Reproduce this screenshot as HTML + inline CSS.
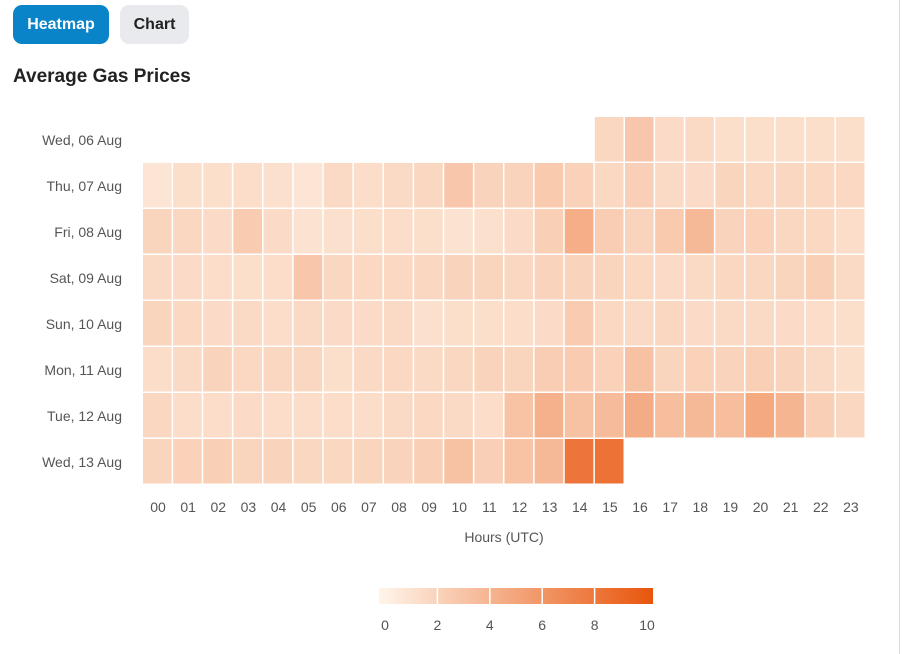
<!DOCTYPE html>
<html><head><meta charset="utf-8"><style>
body{margin:0;width:907px;height:654px;background:#fff;font-family:"Liberation Sans",sans-serif;position:relative;overflow:hidden}
.btn{position:absolute;top:5px;height:39px;border-radius:9px;font-weight:bold;font-size:16px;line-height:39px;text-align:center}
#h{left:13px;width:96px;background:#0a84c8;color:#fff}
#c{left:120px;width:69px;background:#e8eaed;color:#222}
#t{position:absolute;left:13px;top:66px;font-size:19px;font-weight:bold;color:#222}
#sb{position:absolute;left:899px;top:0;width:8px;height:654px;background:#fff;border-left:1px solid #ddd}
svg text{font-family:"Liberation Sans",sans-serif;fill:#555;font-size:14px}
</style></head><body>
<div class="btn" id="h">Heatmap</div>
<div class="btn" id="c">Chart</div>
<div id="t">Average Gas Prices</div>
<div id="sb"></div>
<svg id="svg" width="899" height="654" style="position:absolute;left:0;top:0">
<defs><linearGradient id="g"><stop offset="0" stop-color="#fff5eb"/><stop offset="1" stop-color="#e8550c"/></linearGradient></defs>
</svg>
<script>
const days=["Wed, 06 Aug","Thu, 07 Aug","Fri, 08 Aug","Sat, 09 Aug","Sun, 10 Aug","Mon, 11 Aug","Tue, 12 Aug","Wed, 13 Aug"];
const hours=["00","01","02","03","04","05","06","07","08","09","10","11","12","13","14","15","16","17","18","19","20","21","22","23"];
const N=null;
const wed06=[N,N,N,N,N,N,N,N,N,N,N,N,N,N,N,2.0,3.0,1.7,1.8,1.5,1.5,1.5,1.5,1.5];
const thu07=[1.1,1.5,1.5,1.6,1.4,1.1,1.8,1.6,1.8,2.0,3.0,2.2,2.2,2.8,2.3,1.9,2.4,1.8,1.7,2.1,1.9,2.0,1.9,1.9];
const fri08=[2.1,2.0,1.7,2.7,1.7,1.3,1.4,1.5,1.6,1.5,1.3,1.4,1.7,2.5,4.5,2.6,2.2,2.8,3.8,2.2,2.3,2.0,1.9,1.6];
const sat09=[1.8,1.7,1.6,1.5,1.6,3.0,2.0,1.9,1.9,2.0,2.2,2.1,2.0,2.2,2.2,2.1,1.9,1.7,1.8,2.0,2.0,2.1,2.5,1.8];
const sun10=[2.1,1.9,1.7,1.8,1.6,1.8,1.7,1.7,1.8,1.4,1.5,1.5,1.6,1.7,2.7,1.9,1.8,2.0,1.7,1.8,1.8,1.7,1.6,1.5];
const mon11=[1.6,1.8,2.2,1.9,2.0,2.0,1.5,1.8,1.9,1.8,2.0,2.2,2.1,2.6,2.7,2.3,3.3,2.1,2.3,2.2,2.5,2.2,1.8,1.5];
const tue12=[2.0,1.6,1.6,1.7,1.6,1.6,1.6,1.6,1.8,1.9,1.8,1.6,3.2,4.3,3.3,3.7,4.6,3.5,3.8,3.5,4.8,4.1,2.5,2.0];
const wed13=[2.1,2.3,2.5,2.1,2.2,2.0,2.0,2.1,2.2,2.5,3.3,2.4,3.2,3.8,8.0,8.2,N,N,N,N,N,N,N,N];
const rows=[wed06,thu07,fri08,sat09,sun10,mon11,tue12,wed13];
const legendTicks=[0,2,4,6,8,10];
const svg=document.getElementById('svg');const NS="http://www.w3.org/2000/svg";
const X0=143,X1=866,Y0=117,Y1=485;
const cw=(X1-X0)/hours.length,ch=(Y1-Y0)/days.length;
const xS=i=>X0+i*cw, yS=j=>Y0+j*ch;
function col(v){const t=Math.max(0,Math.min(1,v/10));const a=[255,247,237],b=[232,85,12];return`rgb(${a.map((c,i)=>Math.round(c+(b[i]-c)*t)).join(',')})`;}
function mk(tag,at){const e=document.createElementNS(NS,tag);for(const k in at)e.setAttribute(k,at[k]);svg.appendChild(e);return e;}
rows.forEach((r,j)=>{r.forEach((v,i)=>{if(v==null)return;
const e=mk('rect',{x:xS(i),y:yS(j),width:cw-1.5,height:ch-1.5,fill:col(v)});

});
const t=mk('text',{x:122,y:yS(j)+ch/2+5,'text-anchor':'end'});t.textContent=days[j];

});
hours.forEach((h,i)=>{const t=mk('text',{x:xS(i)+cw/2,y:512,'text-anchor':'middle'});t.textContent=h;

});
const xt=mk('text',{x:504,y:542,'text-anchor':'middle','font-size':'15'});xt.textContent="Hours (UTC)";


const LX0=379,LX1=653,lS=v=>LX0+6+v*(LX1-LX0-12)/10;
const lb=mk('rect',{x:LX0,y:588,width:LX1-LX0,height:16,fill:'url(#g)'});


legendTicks.forEach(v=>{if(v>0&&v<10){const l=mk('line',{x1:lS(v),x2:lS(v),y1:588,y2:604,stroke:'#fff','stroke-width':1.5});

}
const t=mk('text',{x:lS(v),y:630,'text-anchor':'middle','font-size':'15'});t.textContent=v;

});
</script>
</body></html>
